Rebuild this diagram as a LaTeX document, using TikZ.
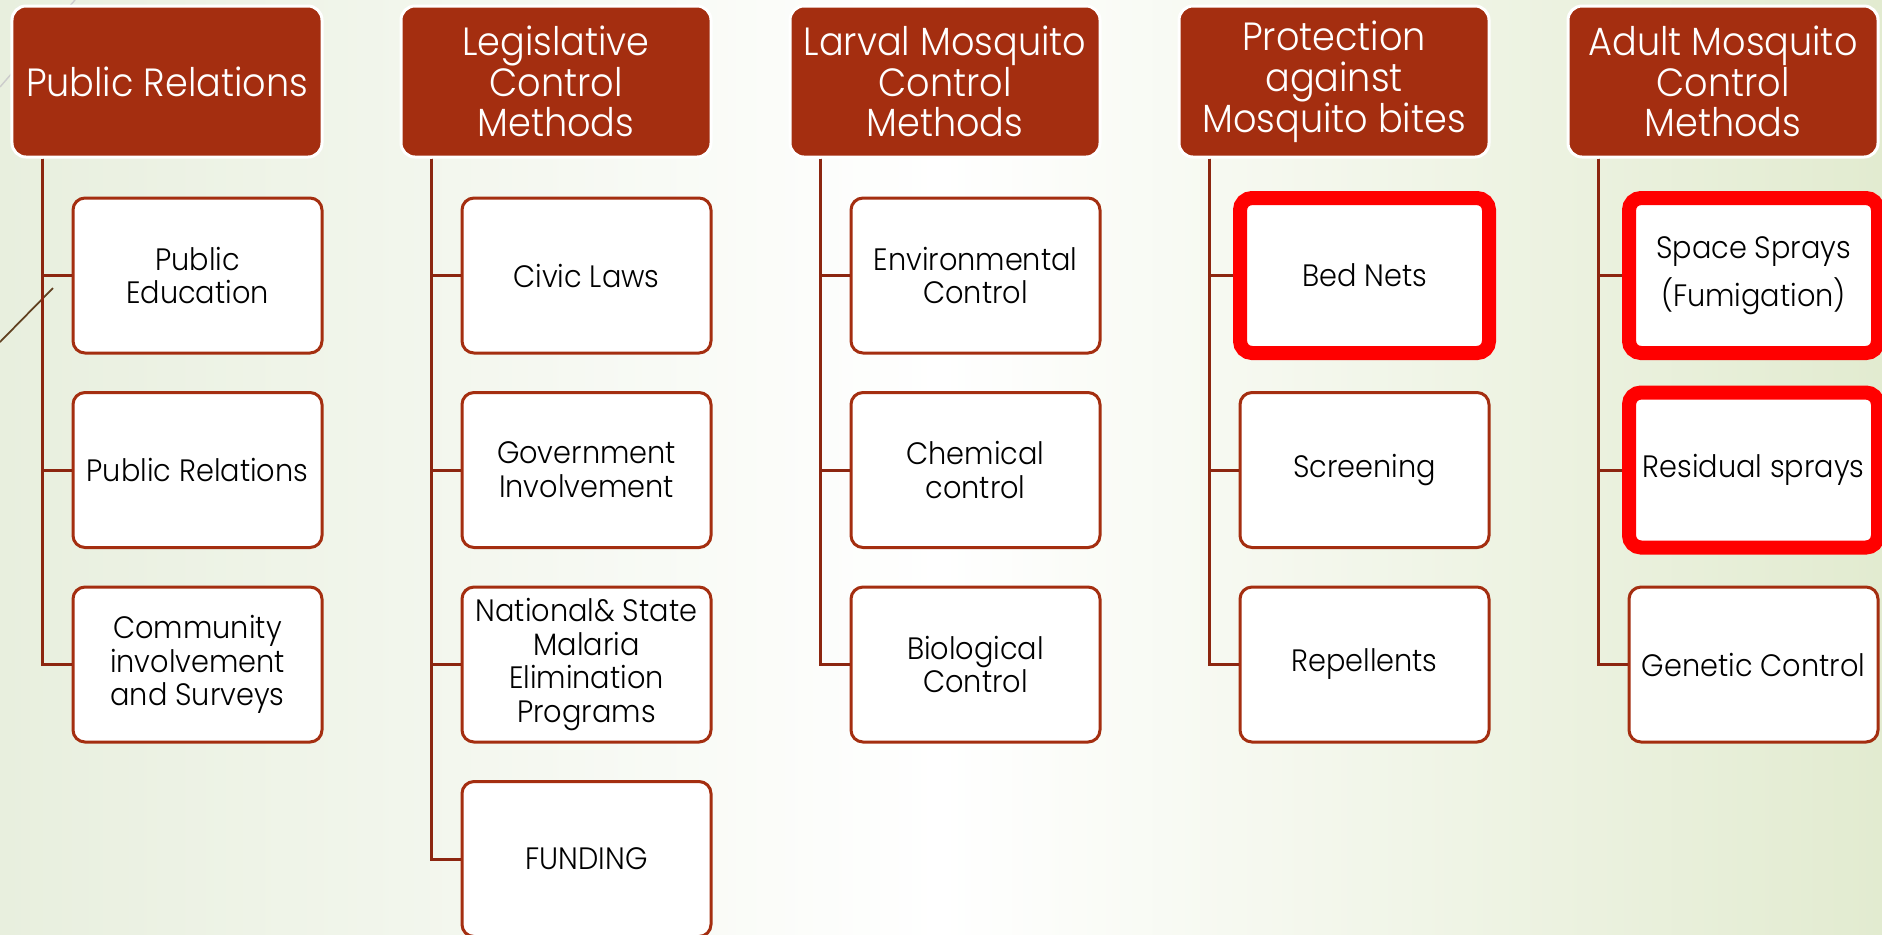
\documentclass[tikz,border=0pt]{standalone}
\usepackage{fontspec}
\setmainfont[FakeStretch=0.93]{Poppins Light}
\definecolor{rust}{RGB}{164,46,16}
\definecolor{wire}{RGB}{140,38,16}
\definecolor{leafL}{RGB}{232,239,222}
\definecolor{leafR}{RGB}{226,235,208}
\begin{document}
\begin{tikzpicture}[
  head/.style={draw=white,line width=0.03cm,fill=rust,rounded corners=0.14cm,minimum width=3.1cm,minimum height=1.51cm,
    inner sep=0pt,align=center,text=white,font=\fontsize{11.2}{11.6}\selectfont},
  item/.style={draw=rust,line width=0.03cm,fill=white,rounded corners=0.12cm,minimum width=2.49cm,minimum height=1.55cm,
    inner sep=0pt,align=center,font=\fontsize{8.8}{9.6}\selectfont},
  hot/.style={draw=red,line width=0.14cm},
  link/.style={draw=wire,line width=0.03cm}]
\useasboundingbox (0,0) rectangle (18.82,-9.34);
\shade[left color=leafL,right color=leafR,middle color=white] (0,0) rectangle (18.82,-9.34);
\draw[black!20,line width=0.4pt] (0,-0.87) -- (0.75,0);
\draw[black!50!brown,line width=0.5pt] (0,-3.42) -- (0.53,-2.88);
% headers
\node[head] (pr) at (1.67,-0.815) {Public Relations};
\node[head] (leg) at (5.56,-0.815) {Legislative\\Control\\Methods};
\node[head] (larva) at (9.45,-0.815) {Larval Mosquito\\Control\\Methods};
\node[head] (prot) at (13.34,-0.815) {Protection\\against\\Mosquito bites};
\node[head] (adult) at (17.23,-0.815) {Adult Mosquito\\Control\\Methods};
% items
\node[item] (pr1) at (1.975,-2.755) {Public\\Education};
\node[item] (pr2) at (1.975,-4.70) {Public Relations};
\node[item] (pr3) at (1.975,-6.645) {Community\\involvement\\and Surveys};
\node[item] (leg1) at (5.865,-2.755) {Civic Laws};
\node[item] (leg2) at (5.865,-4.70) {Government\\Involvement};
\node[item] (leg3) at (5.865,-6.645) {National\& State\\Malaria\\Elimination\\Programs};
\node[item] (leg4) at (5.865,-8.59) {FUNDING};
\node[item] (larva1) at (9.755,-2.755) {Environmental\\Control};
\node[item] (larva2) at (9.755,-4.70) {Chemical\\control};
\node[item] (larva3) at (9.755,-6.645) {Biological\\Control};
\node[item,hot] (prot1) at (13.645,-2.755) {Bed Nets};
\node[item] (prot2) at (13.645,-4.70) {Screening};
\node[item] (prot3) at (13.645,-6.645) {Repellents};
\node[item,hot] (adult1) at (17.535,-2.755) {Space Sprays\\[2pt](Fumigation)};
\node[item,hot] (adult2) at (17.535,-4.70) {Residual sprays};
\node[item] (adult3) at (17.535,-6.645) {Genetic Control};
% links
\draw[link] ([xshift=-1.25cm]pr.south) |- (pr1.west);
\draw[link] ([xshift=-1.25cm]pr.south) |- (pr2.west);
\draw[link] ([xshift=-1.25cm]pr.south) |- (pr3.west);
\draw[link] ([xshift=-1.25cm]leg.south) |- (leg1.west);
\draw[link] ([xshift=-1.25cm]leg.south) |- (leg2.west);
\draw[link] ([xshift=-1.25cm]leg.south) |- (leg3.west);
\draw[link] ([xshift=-1.25cm]leg.south) |- (leg4.west);
\draw[link] ([xshift=-1.25cm]larva.south) |- (larva1.west);
\draw[link] ([xshift=-1.25cm]larva.south) |- (larva2.west);
\draw[link] ([xshift=-1.25cm]larva.south) |- (larva3.west);
\draw[link] ([xshift=-1.25cm]prot.south) |- (prot1.west);
\draw[link] ([xshift=-1.25cm]prot.south) |- (prot2.west);
\draw[link] ([xshift=-1.25cm]prot.south) |- (prot3.west);
\draw[link] ([xshift=-1.25cm]adult.south) |- (adult1.west);
\draw[link] ([xshift=-1.25cm]adult.south) |- (adult2.west);
\draw[link] ([xshift=-1.25cm]adult.south) |- (adult3.west);
\end{tikzpicture}
\end{document}
